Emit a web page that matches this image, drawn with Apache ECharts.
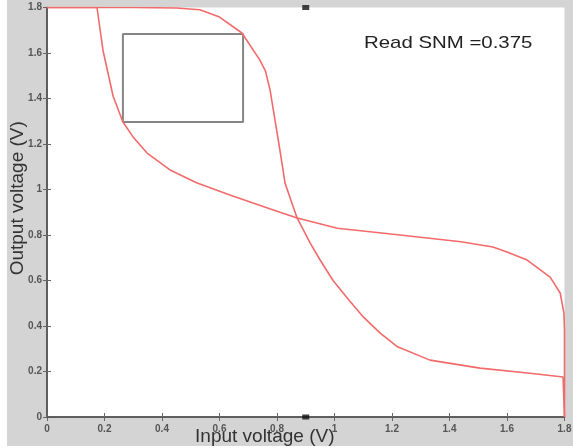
<!DOCTYPE html>
<html>
<head>
<meta charset="utf-8">
<script src="https://cdn.jsdelivr.net/npm/echarts@6/dist/echarts.min.js"></script>
<style>
    html, body { margin: 0; padding: 0; background: #fff; }
    #chart { width: 573px; height: 448px; }
</style>
</head>
<body>
<div id="chart"></div>
<script>
// Butterfly curve: two inverter transfer curves (read as [Vin, Vout])
const curveA = [
    [0, 1.8], [0.3, 1.8], [0.45, 1.798], [0.532, 1.79], [0.6, 1.758], [0.678, 1.688],
    [0.74, 1.57], [0.76, 1.52], [0.776, 1.437], [0.793, 1.305], [0.81, 1.174],
    [0.828, 1.028], [0.852, 0.94], [0.87, 0.875], [0.915, 0.765], [0.95, 0.69],
    [0.995, 0.6], [1.05, 0.514], [1.1, 0.44], [1.158, 0.37], [1.217, 0.31],
    [1.332, 0.25], [1.506, 0.215], [1.68, 0.192], [1.795, 0.176], [1.8, 0.17], [1.8, 0]
];
const curveB = [
    [0, 1.8], [0.174, 1.8], [0.185, 1.7], [0.195, 1.61], [0.23, 1.41], [0.264, 1.297],
    [0.3, 1.23], [0.348, 1.16], [0.428, 1.086], [0.52, 1.03], [0.636, 0.976],
    [0.81, 0.9], [0.87, 0.875], [1.01, 0.83], [1.228, 0.8], [1.44, 0.77],
    [1.551, 0.747], [1.6, 0.725], [1.67, 0.69], [1.75, 0.615], [1.785, 0.545],
    [1.798, 0.457], [1.8, 0.38], [1.8, 0]
];
// largest square between the curves
const snmBox = [[0.264, 1.297], [0.264, 1.684], [0.682, 1.684], [0.682, 1.297], [0.264, 1.297]];
const midMarkers = [[0.9, 1.8], [0.9, 0]];
const snmText = 'Read SNM =0.375';

const axisMin = 0, axisMax = 1.8, tickStep = 0.2;

const chart = echarts.init(document.getElementById('chart'));

const axisLine = { lineStyle: { color: '#555', width: 1.5 } };
const tickStyle = { inside: true, length: 4, lineStyle: { color: '#666' } };
const labelStyle = { color: '#555', fontSize: 10, fontWeight: 'bold', fontFamily: 'Liberation Sans' };
const nameStyle = { color: '#333', fontSize: 19, fontFamily: 'Liberation Sans' };
const redLine = { color: '#f26a6a', width: 1.6 };

chart.setOption({
    backgroundColor: '#d4d4d4',
    animation: false,
    grid: {
        left: 47, right: 8.5, top: 7.5, bottom: 31,
        outerBoundsMode: 'none', containLabel: false,
        show: true, backgroundColor: '#fff', borderWidth: 0
    },
    graphic: [
        { type: 'rect', left: 0, top: 0, z: -10, shape: { width: 7, height: 448 }, style: { fill: '#fff' } },
        { type: 'rect', left: 0, top: 446, z: -10, shape: { width: 573, height: 2 }, style: { fill: '#fff' } },
        {
            type: 'text', x: 364, y: 35, scaleX: 1.2, z: 10,
            style: { text: snmText, fill: '#222', fontSize: 17, fontFamily: 'Liberation Sans' }
        }
    ],
    xAxis: [
        {
            type: 'value', min: axisMin, max: axisMax, interval: tickStep,
            axisLine, axisTick: tickStyle, splitLine: { show: false },
            axisLabel: { ...labelStyle, margin: 7 },
            name: 'Input voltage (V)', nameLocation: 'middle', nameGap: 10, nameMoveOverlap: false,
            nameTextStyle: { ...nameStyle, padding: [0, 82, 0, 0] },
            z: 1
        },
        {
            type: 'value', position: 'top', min: axisMin, max: axisMax, interval: tickStep,
            axisLine, axisTick: tickStyle, axisLabel: { show: false }, splitLine: { show: false }
        }
    ],
    yAxis: [
        {
            type: 'value', min: axisMin, max: axisMax, interval: tickStep,
            axisLine, axisTick: tickStyle, splitLine: { show: false },
            axisLabel: { ...labelStyle, margin: 5 },
            name: 'Output voltage (V)', nameLocation: 'middle', nameGap: 20, nameRotate: 90,
            nameMoveOverlap: false,
            nameTextStyle: { ...nameStyle, padding: [0, 0, 0, 28] }
        },
        {
            type: 'value', position: 'right', min: axisMin, max: axisMax, interval: tickStep,
            axisLine, axisTick: tickStyle, axisLabel: { show: false }, splitLine: { show: false }
        }
    ],
    series: [
        {
            name: 'Box', type: 'line', data: snmBox, symbol: 'none',
            lineStyle: { color: '#858585', width: 2 }, z: 2
        },
        {
            name: 'Inverter A', type: 'line', data: curveA, symbol: 'none',
            lineStyle: redLine, z: 3
        },
        {
            name: 'Inverter B', type: 'line', data: curveB, symbol: 'none',
            lineStyle: redLine, z: 3
        },
        {
            name: 'Markers', type: 'scatter', data: midMarkers, symbol: 'rect',
            symbolSize: [7, 5], itemStyle: { color: '#111' }, clip: false, z: 5
        }
    ]
});
</script>
</body>
</html>
